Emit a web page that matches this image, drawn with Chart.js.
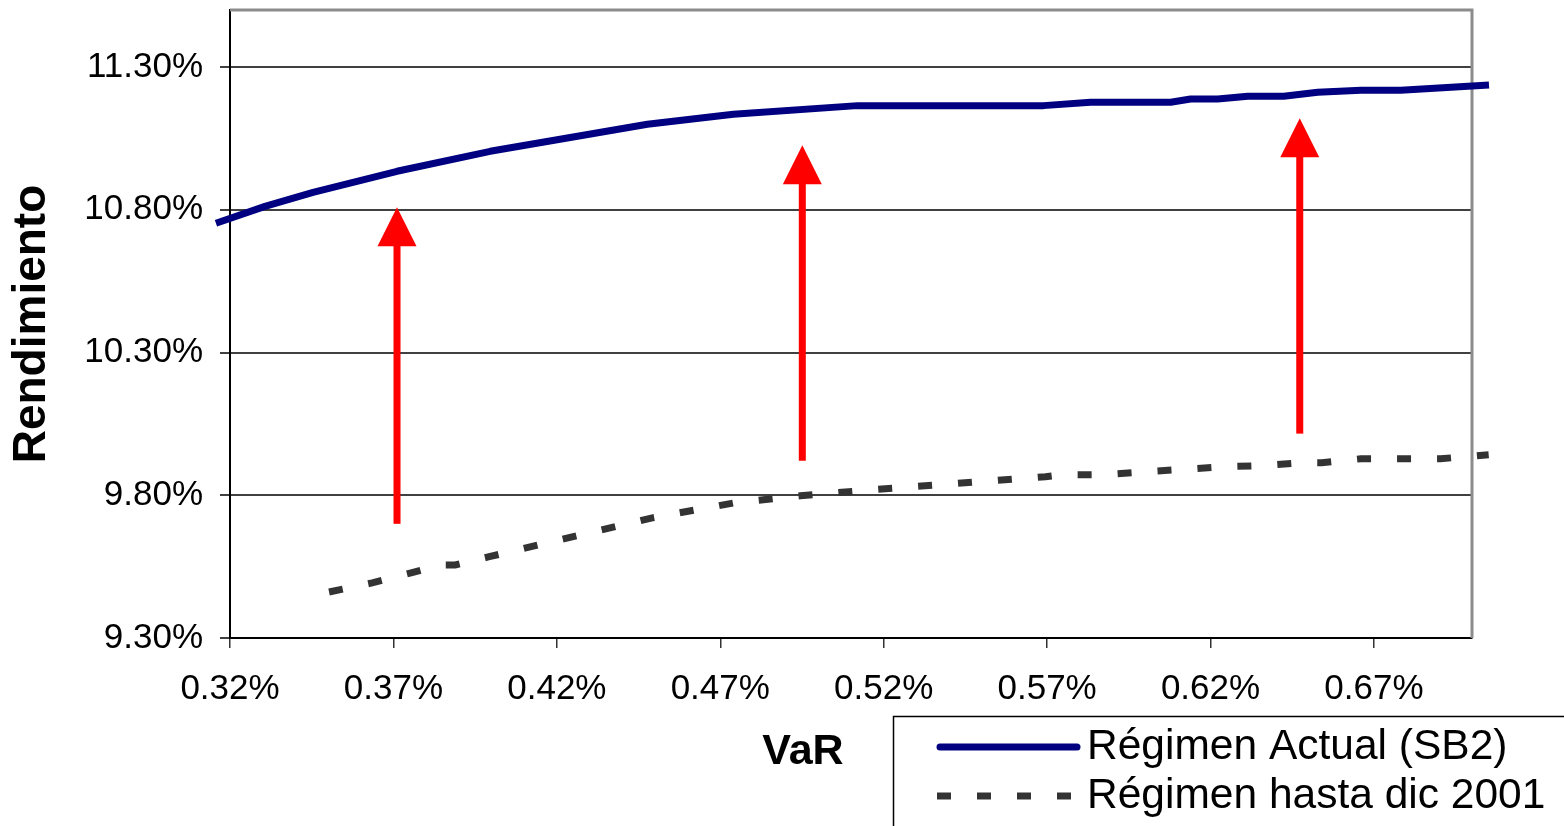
<!DOCTYPE html>
<html>
<head>
<meta charset="utf-8">
<script src="https://cdn.jsdelivr.net/npm/chart.js@4.4.1/dist/chart.umd.min.js"></script>
<style>
  html, body { margin: 0; padding: 0; background: #fff; }
  #wrap { width: 1564px; height: 826px; }
</style>
</head>
<body>
<div id="wrap"><canvas id="chart" width="1564" height="826"></canvas></div>
<script>
// VaR (%) on x, rendimiento (%) on y
const actualVaR = [0.3157, 0.3307, 0.3454, 0.3711, 0.3996, 0.4477, 0.4740, 0.5120, 0.5689, 0.5833, 0.6078, 0.6139, 0.6222, 0.6314, 0.6424, 0.6528, 0.6660, 0.6782, 0.7052];
const actualRet = [10.753, 10.812, 10.861, 10.935, 11.005, 11.100, 11.135, 11.165, 11.165, 11.177, 11.177, 11.188, 11.188, 11.198, 11.198, 11.212, 11.219, 11.219, 11.237];

const oldVaR = [0.3503, 0.3635, 0.3754, 0.3846, 0.3889, 0.3990, 0.4492, 0.4746, 0.4945, 0.5129, 0.5695, 0.5747, 0.5867, 0.6237, 0.6359, 0.6479, 0.6540, 0.6660, 0.6904, 0.7051];
const oldRet = [9.461, 9.493, 9.528, 9.556, 9.556, 9.584, 9.721, 9.774, 9.798, 9.816, 9.865, 9.872, 9.872, 9.900, 9.904, 9.914, 9.914, 9.928, 9.928, 9.942];

// red arrows: VaR position, start and tip (rendimiento)
const arrowVaR = [0.3711, 0.4951, 0.6473];
const arrowFrom = [9.700, 9.921, 10.016];
const arrowTo = [10.809, 11.026, 11.121];

const xTicks = [0.32, 0.37, 0.42, 0.47, 0.52, 0.57, 0.62, 0.67];
const yTicks = [9.30, 9.80, 10.30, 10.80, 11.30];

const seriesLabels = ['Régimen Actual (SB2)', 'Régimen hasta dic 2001'];

const FONT = "'Liberation Sans', Arial, sans-serif";

// gray top/right frame of the plot area
const frame = {
    id: 'frame',
    beforeDatasetsDraw(chart) {
        const { ctx, chartArea: a } = chart;
        ctx.save();
        ctx.strokeStyle = '#8c8c8c';
        ctx.lineWidth = 3;
        ctx.beginPath();
        ctx.moveTo(a.left, a.top);
        ctx.lineTo(a.right, a.top);
        ctx.lineTo(a.right, a.bottom);
        ctx.stroke();
        ctx.restore();
    }
};

// red vertical arrows
const arrows = {
    id: 'arrows',
    afterDatasetsDraw(chart) {
        const { ctx, scales: { x, y } } = chart;
        const head = 39, half = 19.5, shaft = 7;
        ctx.save();
        ctx.fillStyle = '#ff0000';
        arrowVaR.forEach((v, i) => {
            const px = x.getPixelForValue(v);
            const y0 = y.getPixelForValue(arrowFrom[i]);
            const y1 = y.getPixelForValue(arrowTo[i]);
            ctx.fillRect(px - shaft / 2, y1 + head - 1, shaft, y0 - y1 - head + 1);
            ctx.beginPath();
            ctx.moveTo(px, y1);
            ctx.lineTo(px + half, y1 + head);
            ctx.lineTo(px - half, y1 + head);
            ctx.closePath();
            ctx.fill();
        });
        ctx.restore();
    }
};

// legend box (bottom right, cut by the edge) and the x title
const legendBox = {
    id: 'legendBox',
    afterDraw(chart) {
        const ctx = chart.ctx;
        ctx.save();
        ctx.strokeStyle = '#000';
        ctx.lineWidth = 1.5;
        ctx.strokeRect(893.5, 716.5, 720, 150);

        ctx.font = '42.5px ' + FONT;
        ctx.fillStyle = '#000';
        ctx.textBaseline = 'middle';
        ctx.textAlign = 'left';
        chart.data.datasets.forEach((ds, i) => {
            const ly = 747 + i * 49;
            ctx.strokeStyle = ds.borderColor;
            ctx.lineWidth = ds.borderWidth;
            ctx.setLineDash(ds.borderDash || []);
            ctx.lineCap = ds.borderDash ? 'butt' : 'round';
            ctx.beginPath();
            ctx.moveTo(ds.borderDash ? 937 : 940, ly);
            ctx.lineTo(ds.borderDash ? 1072 : 1077, ly);
            ctx.stroke();
            ctx.fillText(ds.label, 1087, ly);
        });

        ctx.setLineDash([]);
        ctx.font = 'bold 43px ' + FONT;
        ctx.textAlign = 'center';
        ctx.fillText('VaR', 803, 752);
        ctx.restore();
    }
};

new Chart(document.getElementById('chart'), {
    type: 'scatter',
    data: {
        datasets: [
            {
                label: seriesLabels[0],
                data: actualVaR.map((v, i) => ({ x: v, y: actualRet[i] })),
                showLine: true,
                borderColor: '#000080',
                backgroundColor: '#000080',
                borderWidth: 7,
                borderJoinStyle: 'round',
                pointRadius: 0,
                clip: false
            },
            {
                label: seriesLabels[1],
                data: oldVaR.map((v, i) => ({ x: v, y: oldRet[i] })),
                showLine: true,
                borderColor: '#333333',
                backgroundColor: '#333333',
                borderWidth: 7,
                borderDash: [14, 26],
                pointRadius: 0,
                clip: false
            }
        ]
    },
    options: {
        responsive: false,
        animation: false,
        layout: { padding: { top: 10, right: 92, left: 0, bottom: 0 } },
        plugins: {
            legend: { display: false },
            tooltip: { enabled: false }
        },
        scales: {
            x: {
                type: 'linear',
                min: 0.32,
                max: 0.70,
                afterBuildTicks: (s) => { s.ticks = xTicks.map(v => ({ value: v })); },
                afterFit: (s) => { s.height = 188; s.paddingLeft = 0; s.paddingRight = 0; },
                ticks: {
                    callback: (v) => Number(v).toFixed(2) + '%',
                    font: { family: FONT, size: 35 },
                    color: '#000',
                    padding: 20,
                    maxRotation: 0,
                    autoSkip: false
                },
                grid: { drawOnChartArea: false, drawTicks: true, tickLength: 10, color: '#333', lineWidth: 1.5 },
                border: { color: '#000', width: 2 }
            },
            y: {
                type: 'linear',
                min: 9.30,
                max: 11.50,
                afterBuildTicks: (s) => { s.ticks = yTicks.map(v => ({ value: v })); },
                afterFit: (s) => { s.width = 230; s.paddingTop = 0; s.paddingBottom = 0; },
                ticks: {
                    callback: (v) => Number(v).toFixed(2) + '%',
                    font: { family: FONT, size: 35 },
                    color: '#000',
                    padding: 17,
                    autoSkip: false
                },
                grid: { color: '#404040', lineWidth: 2, tickLength: 10 },
                border: { color: '#000', width: 2 },
                title: {
                    display: true,
                    text: 'Rendimiento',
                    font: { family: FONT, size: 46, weight: 'bold' },
                    color: '#000',
                    padding: { top: 5, bottom: 0 }
                }
            }
        }
    },
    plugins: [frame, arrows, legendBox]
});
</script>
</body>
</html>
